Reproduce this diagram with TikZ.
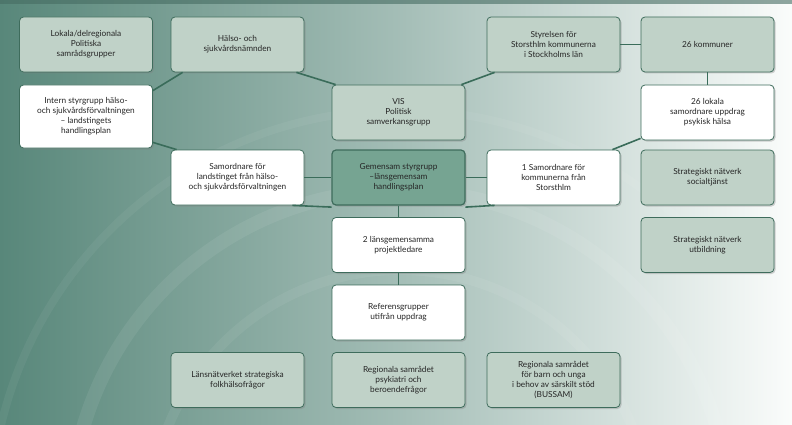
\documentclass[tikz,border=0pt]{standalone}
\usepackage{fontspec}
\setmainfont{Lato}
\usetikzlibrary{shadows}
\definecolor{bgdark}{RGB}{88,135,122}
\definecolor{bglight}{RGB}{250,252,251}
\definecolor{lightbox}{RGB}{192,210,200}
\definecolor{darkbox}{RGB}{118,164,146}
\definecolor{edge}{RGB}{62,108,92}
\definecolor{conn}{RGB}{58,108,90}
\tikzset{
  bx/.style={draw=edge,line width=0.8pt,rounded corners=4pt,minimum width=133pt,minimum height=55pt,
    align=center,font=\fontsize{8.3}{10}\selectfont,text=black!85,
    drop shadow={shadow xshift=1.5pt,shadow yshift=-1.5pt,opacity=0.35}},
  lt/.style={bx,fill=lightbox},
  wt/.style={bx,fill=white},
  dk/.style={bx,fill=darkbox,line width=1.2pt},
  cn/.style={draw=conn,line width=1.6pt}
}
\begin{document}
\begin{tikzpicture}[x=1pt,y=-1pt]
\useasboundingbox (0,0) rectangle (792,425);
\shade[left color=bgdark,right color=bglight,middle color=bgdark!55!white] (0,0) rectangle (792,425);
\fill[bgdark!80!black,opacity=0.6] (0,0) rectangle (792,4);
\begin{scope}
\clip (0,0) rectangle (792,425);
\draw[white,opacity=0.07,line width=14pt] (400,520) circle (330);
\draw[white,opacity=0.06,line width=10pt] (400,520) circle (250);
\draw[white,opacity=0.05,line width=8pt] (400,520) circle (410);
\end{scope}
\node[lt] (lok) at (86,44.5) {Lokala/delregionala\\Politiska\\samrådsgrupper};
\node[lt] (hal) at (237.5,44.5) {Hälso- och\\sjukvårdsnämnden};
\node[lt] (sty) at (553.5,44.5) {Styrelsen för\\Storsthlm kommunerna\\i Stockholms län};
\node[lt] (kom) at (707.5,44.5) {26 kommuner};
\node[wt,minimum height=63pt] (int) at (86,116.5) {Intern styrgrupp hälso-\\och sjukvårdsförvaltningen\\– landstingets\\handlingsplan};
\node[lt] (vis) at (398.5,112.5) {VIS\\Politisk\\samverkansgrupp};
\node[wt] (lkl) at (707.5,112.5) {26 lokala\\samordnare uppdrag\\psykisk hälsa};
\node[wt] (sam) at (237.5,177.5) {Samordnare för\\landstinget från hälso-\\och sjukvårdsförvaltningen};
\node[dk] (gem) at (398.5,177.5) {Gemensam styrgrupp\\–länsgemensam\\handlingsplan};
\node[wt] (one) at (553.5,177.5) {1 Samordnare för\\kommunerna från\\Storsthlm};
\node[lt] (soc) at (707.5,177.5) {Strategiskt nätverk\\socialtjänst};
\node[wt] (pro) at (398.5,245) {2 länsgemensamma\\projektledare};
\node[lt] (utb) at (707.5,245) {Strategiskt nätverk\\utbildning};
\node[wt] (ref) at (398.5,312.5) {Referensgrupper\\utifrån uppdrag};
\node[lt] (lan) at (237.5,380) {Länsnätverket strategiska\\folkhälsofrågor};
\node[lt] (psy) at (398.5,380) {Regionala samrådet\\psykiatri och\\beroendefrågor};
\node[lt] (bus) at (553.5,380) {Regionala samrådet\\för barn och unga\\i behov av särskilt stöd\\(BUSSAM)};
\draw[cn] ([xshift=12pt]hal.south west) -- ([yshift=-6pt]int.north east);
\draw[cn] ([yshift=6pt]int.south east) -- ([xshift=6pt]sam.north west);
\draw[cn] ([xshift=-8pt]hal.south east) -- ([xshift=4pt]vis.north west);
\draw[cn] ([xshift=8pt]sty.south west) -- ([xshift=-4pt]vis.north east);
\draw[cn] (sty.east) -- (kom.west);
\draw[cn] (kom.south) -- (lkl.north);
\draw[cn] ([yshift=2pt]lkl.south west) -- ([xshift=-8pt]one.north east);
\draw[cn] (sam.east) -- (gem.west);
\draw[cn] (gem.east) -- (one.west);
\draw[cn] (gem.south) -- (pro.north);
\draw[cn] (pro.south) -- (ref.north);
\draw[cn] ([xshift=-12pt]sam.south east) -- ([yshift=10pt]pro.north west);
\draw[cn] ([xshift=8pt]one.south west) -- ([yshift=10pt]pro.north east);
\end{tikzpicture}
\end{document}
